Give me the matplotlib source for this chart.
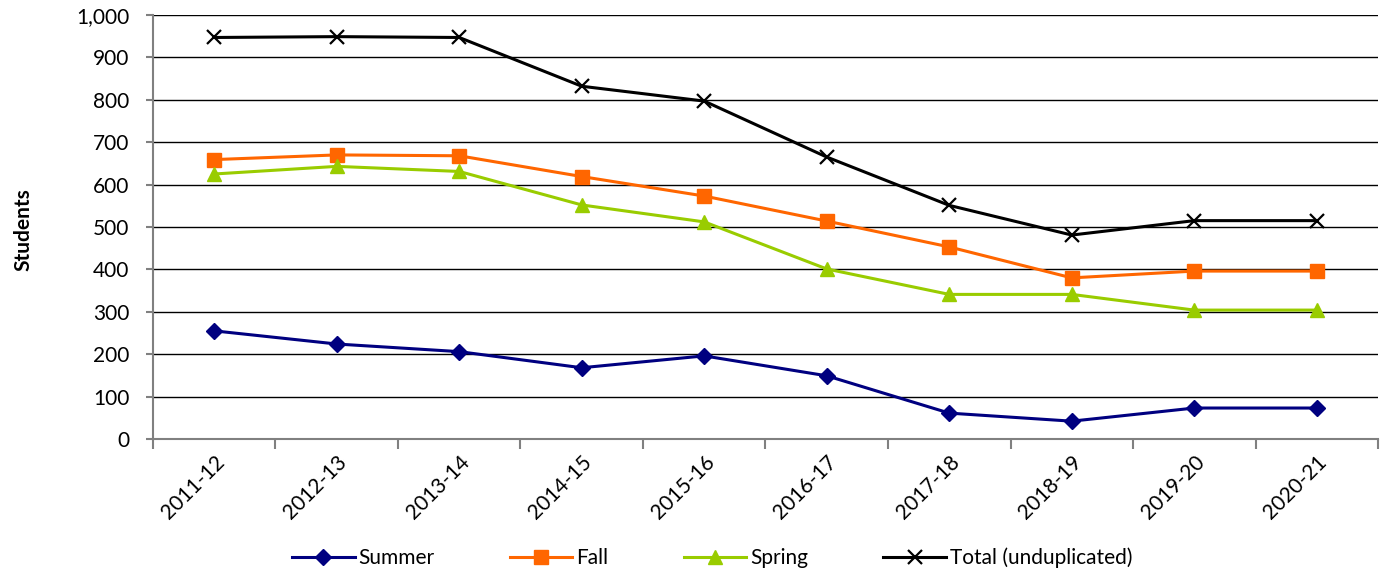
import matplotlib
matplotlib.use("Agg")
import matplotlib.pyplot as plt
from matplotlib.ticker import FuncFormatter, FixedLocator
import numpy as np

years = ["2011-12", "2012-13", "2013-14", "2014-15", "2015-16",
         "2016-17", "2017-18", "2018-19", "2019-20", "2020-21"]
summer = [255, 224, 206, 168, 196, 149, 61, 42, 73, 73]
fall = [659, 670, 668, 619, 573, 514, 453, 380, 396, 396]
spring = [625, 643, 631, 552, 512, 401, 341, 341, 304, 304]
total = [947, 949, 947, 832, 797, 665, 551, 481, 515, 515]

plt.rcParams['font.family'] = ['Lato', 'DejaVu Sans']

fig = plt.figure(figsize=(13.83, 5.73), dpi=100)
ax = fig.add_axes([0.1106, 0.2339, 0.8858, 0.7399])

x = np.arange(len(years))
ax.plot(x, summer, color="#000080", lw=2.2, marker="D", ms=8, label="Summer")
ax.plot(x, fall, color="#FF6600", lw=2.2, marker="s", ms=10, label="Fall")
ax.plot(x, spring, color="#99CC00", lw=2.2, marker="^", ms=10, label="Spring")
ax.plot(x, total, color="#000000", lw=2.2, marker="x", ms=10, mew=1.6, label="Total (unduplicated)")

ax.set_xlim(-0.5, len(years) - 0.5)
ax.set_ylim(0, 1000)
ax.set_yticks(np.arange(0, 1001, 100))
ax.yaxis.set_major_formatter(FuncFormatter(lambda v, p: f"{int(v):,}"))
ax.grid(axis="y", color="#000000", lw=1.0)
ax.set_axisbelow(True)

ax.set_xticks(x)
ax.set_xticklabels(years, rotation=45, ha="right", rotation_mode="anchor", fontsize=15)
ax.tick_params(axis="x", which="major", length=0, pad=9)
ax.xaxis.set_minor_locator(FixedLocator(np.arange(-0.5, len(years), 1.0)))
ax.tick_params(axis="x", which="minor", length=7, color="#808080", width=1.5)
ax.tick_params(axis="y", length=5, color="#808080", width=1.5, labelsize=15, pad=12)

for s in ["top", "right"]:
    ax.spines[s].set_visible(False)
ax.spines["left"].set_color("#808080")
ax.spines["left"].set_linewidth(1.5)
ax.spines["bottom"].set_color("#808080")
ax.spines["bottom"].set_linewidth(1.5)

fig.text(0.017, 0.6, "Students", rotation=90, fontsize=15, fontweight="bold", va="center", ha="center")

fig.legend(loc="center", bbox_to_anchor=(0.515, 0.027), ncol=4, frameon=False,
           fontsize=15, columnspacing=3.6, handlelength=3.0, handletextpad=0.2)

fig.savefig("out.png", dpi=100)
